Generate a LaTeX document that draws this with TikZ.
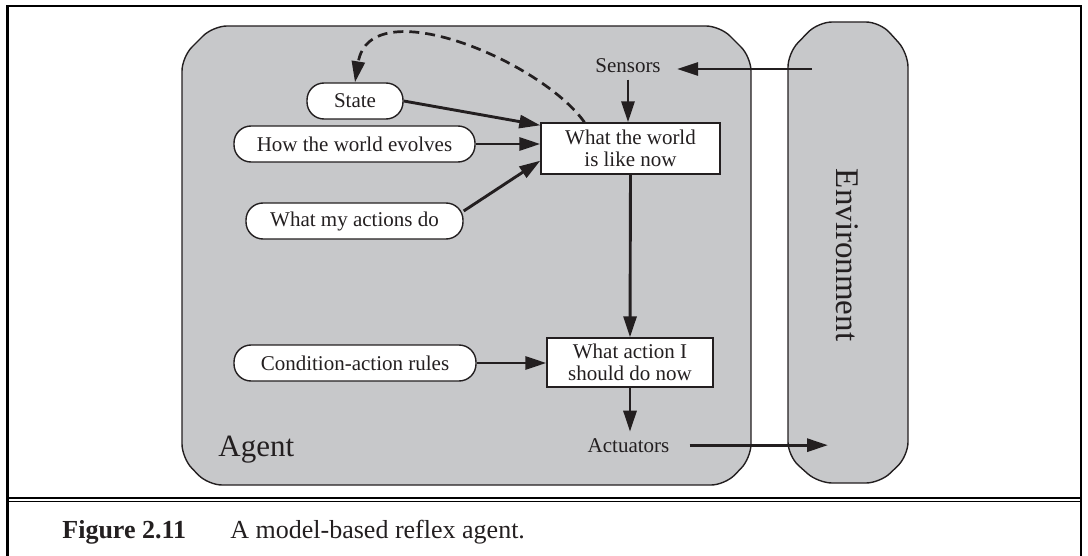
\documentclass[tikz,border=0pt]{standalone}
\usepackage{fontspec}
\setmainfont{Liberation Serif}
\usetikzlibrary{arrows.meta,calc}
\definecolor{ink}{RGB}{35,31,32}
\definecolor{panel}{RGB}{199,200,202}
\begin{document}
\begin{tikzpicture}[x=0.5pt,y=-0.5pt,
  txt/.style={font=\fontsize{10.5}{11}\selectfont, text=ink},
  pill/.style={txt, draw=ink, fill=white, line width=0.7pt, rounded corners=8.5pt, minimum height=18pt, inner sep=0pt},
  rbox/.style={txt, draw=ink, fill=white, line width=0.7pt, inner sep=0pt, align=center},
  lbl/.style={txt, inner xsep=8pt, inner ysep=3pt},
  arr/.style={draw=ink, line width=1.45pt, -{Triangle[length=10.5pt,width=6.5pt]}},
  panelshape/.style={draw=ink, fill=panel, line width=0.7pt, rounded corners=7pt},
  frameline/.style={draw=black, line width=1.1pt},
]
\useasboundingbox (0,0) rectangle (1088,556);
% outer frame and caption rule
\draw[frameline] (7.5,556) -- (7.5,6) -- (1081,6) -- (1081,556);
\draw[black, line width=1.35pt] (7.5,498) -- (1081,498);
\draw[black, line width=0.7pt] (7.5,501.7) -- (1081,501.7);
% panels
\draw[panelshape] (182,250) -- (182,57) -- (213,26) -- (720,26) -- (751,57) -- (751,458) -- (725,485) -- (208,485) -- (182,458) -- cycle;
\draw[panelshape] (788,250) -- (788,53) -- (818,22) -- (880,22) -- (908,53) -- (908,456) -- (880,483) -- (818,483) -- (788,456) -- cycle;
% nodes
\node[pill, minimum width=48pt] (state) at (355,101) {State};
\node[pill, minimum width=120.5pt] (how) at (354.5,144) {How the world evolves};
\node[pill, minimum width=108.5pt] (wmad) at (354.5,221) {What my actions do};
\node[pill, minimum width=121pt] (cond) at (355,363) {Condition-action rules};
\node[rbox, minimum width=89.5pt, minimum height=25.5pt] (world) at (630.5,148.5) {What the world\\is like now};
\node[rbox, minimum width=83pt, minimum height=24.5pt] (action) at (630,362.5) {What action I\\should do now};
\node[lbl, anchor=base] (sensors) at (628,73) {Sensors};
\node[lbl, inner xsep=10pt, anchor=base] (act) at (628.5,452) {Actuators};
\node[font=\fontsize{15.5}{16}\selectfont, text=ink, anchor=base west, inner sep=0pt] (agentlbl) at (218,456) {Agent};
\node[font=\fontsize{16.5}{17}\selectfont, text=ink, rotate=-90] (envlbl) at (847,255) {Environment};
\node[font=\fontsize{13}{15}\selectfont\bfseries, text=ink, anchor=base west, inner sep=0pt] (fig) at (62,538) {Figure 2.11};
\node[font=\fontsize{13}{15}\selectfont, text=ink, anchor=base west, inner sep=0pt] (cap) at (230,538) {A model-based reflex agent.};
% free ends in the environment
\coordinate (envin) at (812,69);
\coordinate (envout) at (828,445);
% connectors
\draw[arr] (envin) -- (envin -| sensors.east);
\draw[arr] (sensors.south) -- (sensors.south |- world.north);
\draw[arr] (state.east) -- ([yshift=-1.5pt]world.north west);
\draw[arr] (how.east) -- (how.east -| world.west);
\draw[arr] ([yshift=5pt]wmad.east) -- ([yshift=7pt]world.south west);
\draw[arr] (world.south) -- (action.north);
\draw[arr] (cond.east) -- (cond.east -| action.west);
\draw[arr] (action.south) -- (action.south |- act.north);
\draw[arr] (act.east) -- (act.east -| envout);
\draw[arr, line width=1.35pt, dash pattern=on 5pt off 3pt] ([xshift=-23pt]world.north) .. controls (540,60) and (370,-10) .. (state.north);
\end{tikzpicture}
\end{document}
